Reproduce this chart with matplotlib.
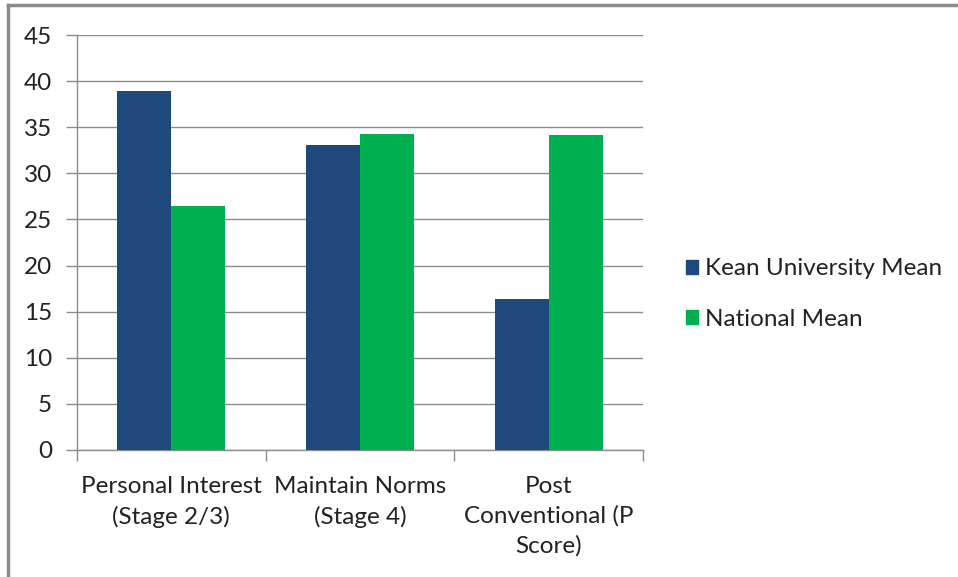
import matplotlib.pyplot as plt
import numpy as np
from matplotlib.lines import Line2D
from matplotlib.patches import Patch

# dados
categorias = ['Personal Interest\n(Stage 2/3)', 'Maintain Norms\n(Stage 4)', 'Post\nConventional (P\nScore)']
kean = [38.9, 33.1, 16.4]
nacional = [26.5, 34.3, 34.2]
series = ['Kean University Mean', 'National Mean']
cores = ['#1F497D', '#00B050']

plt.rcParams['font.family'] = ['Lato', 'DejaVu Sans']
fs = 17.5

W, H = 958, 577
fig = plt.figure(figsize=(W / 100, H / 100), dpi=100)
ax = fig.add_axes([77 / W, (H - 450) / H, (643 - 77) / W, (450 - 35) / H])

x = np.arange(len(categorias))
larg = 1 / 3.5
ax.bar(x - larg / 2, kean, larg, color=cores[0], zorder=3)
ax.bar(x + larg / 2, nacional, larg, color=cores[1], zorder=3)

ax.set_xlim(-0.5, len(categorias) - 0.5)
ax.set_ylim(0, 45)
ax.set_yticks(range(0, 46, 5))
ax.yaxis.grid(True, color='#8c8c8c', linewidth=1, zorder=0)

ax.set_xticks(x)
ax.set_xticklabels(categorias, fontsize=fs, color='#222222', linespacing=1.45)
ax.tick_params(axis='x', length=0, pad=19)
ax.set_xticks(np.arange(-0.5, len(categorias), 1), minor=True)
ax.tick_params(axis='x', which='minor', length=8, color='#8c8c8c', width=1)
ax.tick_params(axis='y', length=8, color='#8c8c8c', width=1, labelsize=fs,
               labelcolor='#222222', pad=10)

for lado in ['top', 'right']:
    ax.spines[lado].set_visible(False)
for lado in ['left', 'bottom']:
    ax.spines[lado].set_color('#8c8c8c')
    ax.spines[lado].set_linewidth(1)

handles = [Patch(color=c) for c in cores]
fig.legend(handles, series, loc='center left', bbox_to_anchor=(664 / W, 1 - 294 / H),
           frameon=False, fontsize=fs, handlelength=0.5, handleheight=0.5,
           handletextpad=0.3, labelspacing=1.2, labelcolor='#222222')

# moldura do gráfico
fig.add_artist(Line2D([8 / W, 8 / W], [0, 1 - 5 / H], color='#8c8c8c', lw=2.5))
fig.add_artist(Line2D([8 / W, 1], [1 - 5 / H, 1 - 5 / H], color='#8c8c8c', lw=2.5))

fig.savefig('out.png', dpi=100)
